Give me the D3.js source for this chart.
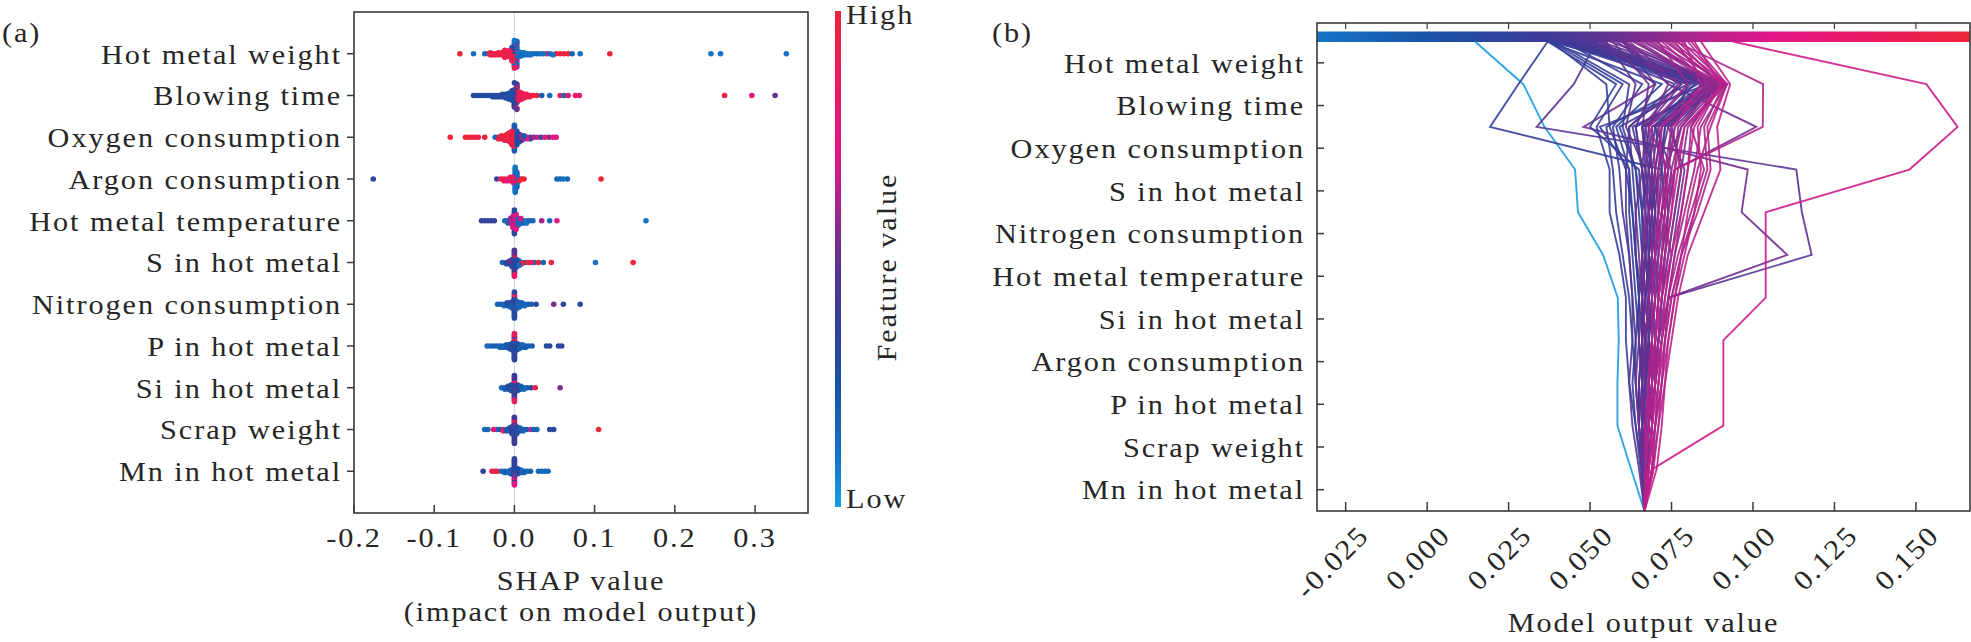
<!DOCTYPE html>
<html>
<head>
<meta charset="utf-8">
<title>SHAP summary and decision plots</title>
<script src="https://cdn.jsdelivr.net/npm/d3@7"></script>
<style>
  body { margin: 0; background: #fff; }
  text { font-family: "Liberation Serif", "Times New Roman", serif; fill: #262626; font-size: 28px; }
</style>
</head>
<body>
<script>
var width = 1971, height = 642;

// ---------- panel (a): SHAP summary ----------
var summaryFeatures = ["Hot metal weight", "Blowing time", "Oxygen consumption", "Argon consumption",
  "Hot metal temperature", "S in hot metal", "Nitrogen consumption", "P in hot metal",
  "Si in hot metal", "Scrap weight", "Mn in hot metal"];

// clusters: [shap value, samples, feature value 0 = low .. 1 = high]
var hotMetalWeight = [[-0.068,1,1],[-0.051,1,0.1],[-0.037,1,0.15],[-0.033,1,1],[-0.03,2,0.95],[-0.027,2,1],
  [-0.024,2,0.9],[-0.02,3,1],[-0.016,3,0.95],[-0.012,4,0.9],[-0.009,5,1],[-0.006,7,0.9],[-0.003,10,0.95],
  [-0.003,6,0.3],[0,10,0.1],[0,10,0.9],[0.003,8,0.15],[0.003,4,0.6],[0.006,6,0.1],[0.009,4,0.15],
  [0.012,3,0.1],[0.016,2,0.12],[0.02,2,0.1],[0.024,1,0.1],[0.028,1,0.15],[0.032,1,0.1],[0.036,1,0.1],
  [0.04,1,0.9],[0.044,1,0.15],[0.048,1,0.1],[0.052,1,0.95],[0.057,1,1],[0.062,1,0.95],[0.067,1,1],
  [0.072,1,0.15],[0.082,1,0.1],[0.119,1,1],[0.245,1,0.1],[0.257,1,0.1],[0.339,1,0.1]];
var blowingTime = [[-0.051,1,0.3],[-0.047,1,0.3],[-0.043,1,0.3],[-0.039,1,0.3],[-0.035,1,0.3],[-0.031,1,0.25],
  [-0.027,2,0.3],[-0.023,2,0.3],[-0.019,2,0.3],[-0.015,3,0.3],[-0.011,4,0.3],[-0.007,6,0.25],[-0.003,9,0.3],
  [0,10,0.35],[0.003,9,0.5],[0.003,5,0.9],[0.006,8,0.9],[0.009,6,0.85],[0.012,4,0.95],[0.015,3,0.9],
  [0.019,2,0.95],[0.023,1,0.9],[0.028,1,1],[0.034,1,0.2],[0.044,1,0.15],[0.057,1,0.9],[0.062,1,0.15],
  [0.067,1,0.8],[0.076,1,0.85],[0.081,1,0.8],[0.262,1,0.95],[0.296,1,0.8],[0.325,1,0.5]];
var oxygenConsumption = [[-0.08,1,1],[-0.061,1,1],[-0.057,1,1],[-0.053,1,1],[-0.049,1,1],[-0.045,1,0.95],
  [-0.037,1,1],[-0.024,1,0.15],[-0.02,2,0.95],[-0.016,3,1],[-0.012,4,0.95],[-0.009,5,1],[-0.006,7,0.9],
  [-0.003,10,0.95],[0,12,0.2],[0,6,0.9],[0.003,10,0.25],[0.006,6,0.3],[0.009,4,0.6],[0.012,3,0.2],
  [0.016,2,0.7],[0.02,2,0.25],[0.024,1,0.6],[0.028,1,0.75],[0.033,1,0.3],[0.038,1,0.8],[0.043,1,0.55],
  [0.048,1,0.75],[0.052,1,0.75]];
var argonConsumption = [[-0.176,1,0.35],[-0.022,1,0.35],[-0.017,1,0.9],[-0.013,2,0.95],[-0.009,2,0.75],
  [-0.005,3,0.9],[-0.002,4,0.8],[0.001,16,0.1],[0.003,10,0.15],[0.006,2,1],[0.009,1,0.95],[0.012,1,1],
  [0.053,1,0.15],[0.057,1,0.15],[0.061,1,0.1],[0.066,1,0.15],[0.108,1,1]];
var hotMetalTemperature = [[-0.041,1,0.35],[-0.037,1,0.35],[-0.033,1,0.35],[-0.029,1,0.4],[-0.025,1,0.35],
  [-0.012,1,0.15],[-0.008,2,0.2],[-0.005,3,0.6],[-0.002,6,0.7],[0,12,0.3],[0.002,8,0.75],[0.005,4,0.15],
  [0.008,3,0.7],[0.011,2,0.15],[0.015,2,0.1],[0.019,1,0.15],[0.023,1,0.15],[0.034,1,0.6],[0.044,1,0.15],
  [0.053,1,0.7],[0.164,1,0.1]];
var sInHotMetal = [[-0.015,1,0.15],[-0.01,2,0.3],[-0.006,3,0.5],[-0.003,6,0.3],[0,14,0.45],[0,6,0.85],
  [0.003,6,0.3],[0.006,4,0.15],[0.009,2,1],[0.013,1,0.2],[0.017,1,1],[0.021,1,0.9],[0.025,1,0.15],
  [0.03,1,1],[0.036,1,0.15],[0.046,1,1],[0.101,1,0.1],[0.148,1,1]];
var nitrogenConsumption = [[-0.021,1,0.15],[-0.017,1,0.2],[-0.013,2,0.15],[-0.009,3,0.3],[-0.005,4,0.2],
  [-0.002,6,0.35],[0,14,0.3],[0,6,0.9],[0.003,6,0.2],[0.006,4,0.15],[0.009,3,0.2],[0.013,2,0.15],
  [0.017,1,0.3],[0.021,1,0.2],[0.027,1,0.3],[0.049,1,0.55],[0.061,1,0.35],[0.082,1,0.3]];
var pInHotMetal = [[-0.034,1,0.15],[-0.03,1,0.15],[-0.026,1,0.2],[-0.022,1,0.15],[-0.018,2,0.2],
  [-0.014,2,0.15],[-0.01,3,0.2],[-0.006,4,0.3],[-0.003,6,0.3],[0,14,0.35],[0,8,0.85],[0.003,6,0.3],
  [0.006,4,0.2],[0.01,3,0.15],[0.014,2,0.2],[0.018,1,0.15],[0.022,1,0.2],[0.04,1,0.3],[0.044,1,0.35],
  [0.055,1,0.3],[0.059,1,0.35]];
var siInHotMetal = [[-0.016,1,0.15],[-0.012,2,0.2],[-0.008,3,0.3],[-0.004,5,0.3],[0,14,0.4],[0,6,0.85],
  [0.004,5,0.3],[0.008,3,0.2],[0.012,2,0.15],[0.016,1,0.2],[0.021,1,0.3],[0.026,1,0.95],[0.057,1,0.55]];
var scrapWeight = [[-0.037,1,0.15],[-0.033,1,0.15],[-0.026,1,0.8],[-0.022,1,0.15],[-0.018,1,0.2],
  [-0.014,2,0.9],[-0.01,2,0.2],[-0.006,3,0.3],[-0.003,6,0.35],[0,14,0.4],[0,6,0.85],[0.003,6,0.3],
  [0.007,3,0.2],[0.011,2,0.15],[0.015,1,0.2],[0.02,1,0.7],[0.024,1,0.2],[0.028,1,0.15],[0.044,1,0.35],
  [0.049,1,0.3],[0.105,1,1]];
var mnInHotMetal = [[-0.039,1,0.35],[-0.028,1,0.9],[-0.024,1,0.95],[-0.021,1,1],[-0.016,1,0.15],
  [-0.012,2,0.2],[-0.008,2,0.15],[-0.004,4,0.3],[0,14,0.35],[0,8,0.75],[0.004,5,0.3],[0.008,3,0.15],
  [0.012,2,0.2],[0.016,1,0.15],[0.02,1,0.2],[0.03,1,0.15],[0.034,1,0.15],[0.038,1,0.15],[0.042,1,0.15]];
var summaryClusters = [hotMetalWeight, blowingTime, oxygenConsumption, argonConsumption, hotMetalTemperature,
  sInHotMetal, nitrogenConsumption, pInHotMetal, siInHotMetal, scrapWeight, mnInHotMetal];
var shapTicks = [-0.2, -0.1, 0.0, 0.1, 0.2, 0.3];

// ---------- panel (b): decision plot ----------
var decisionFeatures = ["Hot metal weight", "Blowing time", "Oxygen consumption", "S in hot metal",
  "Nitrogen consumption", "Hot metal temperature", "Si in hot metal", "Argon consumption",
  "P in hot metal", "Scrap weight", "Mn in hot metal"];
var baseValue = 0.0667;
var outputTicks = [-0.025, 0.000, 0.025, 0.050, 0.075, 0.100, 0.125, 0.150];
// model output after adding, from the bottom: Mn, Scrap, P, Argon, Si, HMT, N2, S, O2, Blowing, HMW
var decisionPaths = [
  [0.0625,0.0584,0.0584,0.0588,0.0585,0.054,0.0463,0.0454,0.036,0.0295,0.0147],
  [0.067,0.067,0.066,0.066,0.065,0.066,0.068,0.072,0.0193,0.028,0.037],
  [0.068,0.069,0.070,0.072,0.0742,0.118,0.115,0.1133,0.0336,0.045,0.052],
  [0.067,0.068,0.069,0.071,0.0742,0.1105,0.0965,0.0984,0.048,0.070,0.060],
  [0.067,0.068,0.069,0.070,0.071,0.072,0.074,0.076,0.101,0.074,0.060],
  [0.0655,0.064,0.062,0.061,0.061,0.059,0.056,0.056,0.052,0.060,0.038],
  [0.066,0.065,0.064,0.063,0.062,0.060,0.058,0.057,0.055,0.080,0.039],
  [0.0665,0.066,0.066,0.065,0.064,0.063,0.062,0.062,0.058,0.072,0.037],
  [0.067,0.067,0.068,0.068,0.069,0.068,0.067,0.066,0.064,0.088,0.038],
  [0.066,0.065,0.065,0.066,0.067,0.066,0.065,0.064,0.060,0.062,0.039],
  [0.0675,0.068,0.068,0.069,0.070,0.071,0.070,0.068,0.070,0.090,0.040],
  [0.066,0.066,0.067,0.066,0.066,0.064,0.063,0.061,0.056,0.055,0.038],
  [0.066,0.064,0.063,0.064,0.065,0.064,0.063,0.062,0.053,0.086,0.040],
  [0.067,0.068,0.069,0.070,0.069,0.068,0.069,0.070,0.072,0.091,0.041],
  [0.0665,0.067,0.066,0.066,0.066,0.067,0.066,0.064,0.059,0.083,0.041],
  [0.0665,0.065,0.064,0.064,0.063,0.062,0.060,0.059,0.057,0.066,0.042],
  [0.067,0.066,0.066,0.067,0.068,0.069,0.070,0.069,0.066,0.087,0.043],
  [0.067,0.067,0.067,0.068,0.068,0.070,0.072,0.074,0.075,0.080,0.044],
  [0.066,0.065,0.065,0.066,0.066,0.067,0.068,0.069,0.067,0.089,0.044],
  [0.066,0.066,0.066,0.067,0.066,0.066,0.066,0.067,0.066,0.085,0.039],
  [0.0668,0.067,0.066,0.065,0.065,0.064,0.064,0.063,0.062,0.076,0.043],
  [0.067,0.068,0.068,0.067,0.068,0.067,0.066,0.065,0.050,0.058,0.037],
  [0.0665,0.066,0.067,0.068,0.067,0.069,0.068,0.066,0.063,0.089,0.045],
  [0.067,0.068,0.067,0.068,0.068,0.068,0.069,0.071,0.073,0.090,0.046],
  [0.068,0.068,0.069,0.069,0.070,0.072,0.073,0.075,0.070,0.086,0.047],
  [0.067,0.068,0.069,0.068,0.069,0.070,0.071,0.072,0.073,0.087,0.048],
  [0.066,0.065,0.066,0.067,0.068,0.067,0.066,0.068,0.069,0.091,0.050],
  [0.0665,0.066,0.067,0.067,0.068,0.069,0.068,0.067,0.068,0.081,0.050],
  [0.065,0.063,0.062,0.063,0.063,0.062,0.061,0.061,0.062,0.078,0.051],
  [0.0675,0.069,0.070,0.071,0.072,0.074,0.076,0.078,0.075,0.084,0.052],
  [0.066,0.066,0.065,0.066,0.067,0.068,0.067,0.066,0.064,0.070,0.054],
  [0.067,0.067,0.068,0.069,0.068,0.069,0.070,0.069,0.071,0.092,0.056],
  [0.0665,0.067,0.068,0.067,0.066,0.065,0.064,0.066,0.067,0.078,0.058],
  [0.068,0.069,0.070,0.071,0.073,0.075,0.077,0.079,0.074,0.088,0.059],
  [0.068,0.069,0.070,0.070,0.071,0.073,0.074,0.073,0.078,0.090,0.060],
  [0.066,0.065,0.064,0.065,0.066,0.066,0.068,0.069,0.068,0.074,0.061],
  [0.067,0.066,0.067,0.066,0.067,0.066,0.067,0.068,0.066,0.077,0.062],
  [0.067,0.068,0.068,0.069,0.070,0.069,0.068,0.070,0.072,0.088,0.063],
  [0.066,0.066,0.066,0.067,0.068,0.070,0.071,0.070,0.069,0.085,0.064],
  [0.067,0.067,0.068,0.068,0.068,0.069,0.071,0.073,0.071,0.086,0.065],
  [0.0665,0.066,0.067,0.068,0.069,0.071,0.073,0.072,0.070,0.082,0.046],
  [0.067,0.067,0.066,0.066,0.067,0.068,0.070,0.071,0.074,0.091,0.053],
  [0.066,0.066,0.067,0.067,0.066,0.067,0.069,0.068,0.066,0.068,0.057],
  [0.068,0.069,0.069,0.070,0.071,0.070,0.072,0.074,0.076,0.089,0.049],
  [0.0665,0.067,0.068,0.069,0.069,0.070,0.069,0.067,0.061,0.064,0.055],
  [0.068,0.069,0.070,0.071,0.072,0.074,0.076,0.078,0.080,0.091,0.066],
  [0.067,0.068,0.069,0.070,0.071,0.072,0.074,0.076,0.077,0.089,0.068],
  [0.067,0.068,0.070,0.072,0.074,0.076,0.078,0.080,0.081,0.089,0.069],
  [0.069,0.071,0.072,0.073,0.074,0.076,0.079,0.082,0.084,0.092,0.070],
  [0.067,0.068,0.068,0.069,0.070,0.071,0.072,0.073,0.075,0.087,0.072],
  [0.069,0.070,0.072,0.074,0.076,0.079,0.082,0.086,0.085,0.091,0.073],
  [0.068,0.070,0.071,0.072,0.074,0.077,0.081,0.085,0.081,0.090,0.074],
  [0.068,0.069,0.070,0.071,0.072,0.073,0.075,0.076,0.079,0.092,0.075],
  [0.067,0.067,0.068,0.069,0.069,0.070,0.071,0.071,0.072,0.086,0.076],
  [0.068,0.070,0.072,0.073,0.075,0.078,0.082,0.084,0.083,0.090,0.077],
  [0.069,0.070,0.071,0.073,0.075,0.078,0.083,0.087,0.086,0.092,0.078],
  [0.067,0.067,0.068,0.070,0.071,0.072,0.073,0.074,0.076,0.084,0.079],
  [0.068,0.069,0.070,0.070,0.071,0.073,0.075,0.077,0.079,0.091,0.080],
  [0.0695,0.071,0.073,0.074,0.076,0.078,0.080,0.083,0.087,0.092,0.081],
  [0.067,0.068,0.069,0.071,0.072,0.073,0.074,0.075,0.078,0.088,0.067],
  [0.068,0.069,0.071,0.072,0.073,0.075,0.078,0.080,0.082,0.090,0.082],
  [0.0705,0.072,0.073,0.075,0.077,0.080,0.085,0.090,0.089,0.093,0.084],
  [0.067,0.068,0.068,0.069,0.069,0.070,0.072,0.074,0.068,0.080,0.071],
  [0.067,0.068,0.069,0.070,0.072,0.075,0.072,0.076,0.103,0.1031,0.0763],
  [0.0695,0.0909,0.0909,0.0909,0.1039,0.1039,0.1039,0.148,0.1628,0.1532,0.0938]
];

// ---------- shared colour map ----------
var cmapPos = [0, 0.1, 0.25, 0.4, 0.52, 0.62, 0.72, 0.85, 1];
var cmapCol = ["#1a9de0", "#1672c4", "#1a52a6", "#3b3c98", "#6a3090", "#b0248c", "#e2168a", "#ea1a64", "#ec2538"];
var cmap = d3.scaleLinear().domain(cmapPos).range(cmapCol).interpolate(d3.interpolateRgb);

var svg = d3.select("body").append("svg")
  .attr("width", width).attr("height", height);

function label(g, x, y, str, anchor, rot) {
  return g.append("text")
    .attr("transform", "translate(" + x + "," + y + ")" + (rot ? " rotate(" + rot + ")" : "") + " scale(1.08,1)")
    .attr("text-anchor", anchor)
    .attr("letter-spacing", "1.8px")
    .text(str);
}

var defs = svg.append("defs");
function gradient(id, horizontal, t0) {
  var gr = defs.append("linearGradient").attr("id", id)
    .attr("x1", 0).attr("y1", horizontal ? 0 : 1).attr("x2", horizontal ? 1 : 0).attr("y2", 0);
  d3.range(0, 1.0001, 0.05).forEach(function(t) {
    gr.append("stop").attr("offset", t).attr("stop-color", cmap(t0 + (1 - t0) * t));
  });
}
gradient("vgrad", false, 0);
gradient("hgrad", true, 0.09);

// ===== panel (a) =====
var ax = {left: 354, right: 808, top: 12, bottom: 513};
var xA = d3.scaleLinear().domain([-0.2, 0.366]).range([ax.left, ax.right]);
var yA = d3.scalePoint().domain(summaryFeatures).range([ax.top, ax.bottom]).padding(1);
var ga = svg.append("g");

ga.append("line").attr("x1", xA(0)).attr("x2", xA(0)).attr("y1", ax.top).attr("y2", ax.bottom)
  .attr("stroke", "#d6dde0").attr("stroke-width", 1.2);

summaryClusters.forEach(function(clusters, row) {
  var pts = [];
  clusters.forEach(function(c) {
    for (var k = 0; k < c[1]; k++) pts.push({v: c[0], f: c[2]});
  });
  var lo = d3.min(pts, function(d) { return d.v; }), hi = d3.max(pts, function(d) { return d.v; });
  pts.forEach(function(p, i) {
    p.bin = Math.round(100 * (p.v - lo) / (hi - lo));
    p.key = (i * 37) % 101;
  });
  var maxLayer = 0;
  d3.group(pts, function(d) { return d.bin; }).forEach(function(list) {
    list.sort(function(a, b) { return a.key - b.key; });
    list.forEach(function(p, j) {
      p.layer = Math.ceil(j / 2) * ((j % 2) * 2 - 1);
      maxLayer = Math.max(maxLayer, p.layer);
    });
  });
  var k = 0.9 * 0.4 / (maxLayer + 1) * yA.step();
  pts.sort(function(a, b) { return a.key - b.key; });
  ga.append("g").selectAll("circle").data(pts).enter().append("circle")
    .attr("cx", function(d) { return xA(d.v); })
    .attr("cy", function(d) { return yA(summaryFeatures[row]) + d.layer * k; })
    .attr("r", 2.8)
    .attr("fill", function(d) { return cmap(d.f); });
});

ga.append("rect").attr("x", ax.left).attr("y", ax.top)
  .attr("width", ax.right - ax.left).attr("height", ax.bottom - ax.top)
  .attr("fill", "none").attr("stroke", "#3a3a3a").attr("stroke-width", 1.6);

summaryFeatures.forEach(function(f) {
  ga.append("line").attr("x1", ax.left - 7).attr("x2", ax.left).attr("y1", yA(f)).attr("y2", yA(f))
    .attr("stroke", "#3a3a3a").attr("stroke-width", 1.5);
  label(ga, ax.left - 12, yA(f), f, "end").attr("dy", "0.35em");
});
shapTicks.forEach(function(t) {
  ga.append("line").attr("x1", xA(t)).attr("x2", xA(t)).attr("y1", ax.bottom - 8).attr("y2", ax.bottom)
    .attr("stroke", "#3a3a3a").attr("stroke-width", 1.5);
  label(ga, xA(t), 547, d3.format(".1f")(t).replace("−", "-"), "middle");
});
label(ga, (ax.left + ax.right) / 2, 590, "SHAP value", "middle");
label(ga, (ax.left + ax.right) / 2, 621, "(impact on model output)", "middle");
label(ga, 2, 42, "(a)", "start");

// colour bar
ga.append("rect").attr("x", 835).attr("y", 11).attr("width", 6).attr("height", 496)
  .attr("fill", "url(#vgrad)");
label(ga, 846, 24, "High", "start");
label(ga, 846, 508, "Low", "start");
label(ga, 886, 267, "Feature value", "middle", -90).attr("dy", "0.35em");

// ===== panel (b) =====
var bx = {left: 1317, right: 1970, top: 23, bottom: 511};
var plotTop = 41.5;
var xB = d3.scaleLinear().domain([-0.0338, 0.1666]).range([bx.left, bx.right]);
var yB = d3.scaleLinear().domain([0, decisionFeatures.length]).range([bx.bottom, plotTop]);
var gb = svg.append("g");

gb.append("rect").attr("x", bx.left).attr("y", 31.5).attr("width", bx.right - bx.left).attr("height", 10.5)
  .attr("fill", "url(#hgrad)");

var lineColor = d3.scaleLinear().domain([0.0147, 0.038, 0.055, 0.07, 0.094]).range([0, 0.38, 0.5, 0.6, 0.68]);
var line = d3.line()
  .x(function(d) { return xB(d); })
  .y(function(d, i) { return yB(i); });
gb.append("g").selectAll("path").data(decisionPaths).enter().append("path")
  .attr("d", function(p) { return line([baseValue].concat(p)); })
  .attr("fill", "none")
  .attr("stroke", function(p) { return cmap(lineColor(p[p.length - 1])); })
  .attr("stroke-width", 1.9)
  .attr("stroke-opacity", 0.9);

gb.append("rect").attr("x", bx.left).attr("y", bx.top)
  .attr("width", bx.right - bx.left).attr("height", bx.bottom - bx.top)
  .attr("fill", "none").attr("stroke", "#3a3a3a").attr("stroke-width", 1.6);

var nF = decisionFeatures.length;
decisionFeatures.forEach(function(f, i) {
  var y = yB(nF - 1 - i + 0.5);
  gb.append("line").attr("x1", bx.left).attr("x2", bx.left + 7).attr("y1", y).attr("y2", y)
    .attr("stroke", "#3a3a3a").attr("stroke-width", 1.5);
  label(gb, bx.left - 12, y, f, "end").attr("dy", "0.35em");
});
outputTicks.forEach(function(t) {
  gb.append("line").attr("x1", xB(t)).attr("x2", xB(t)).attr("y1", bx.bottom - 9).attr("y2", bx.bottom)
    .attr("stroke", "#3a3a3a").attr("stroke-width", 1.5);
  gb.append("line").attr("x1", xB(t)).attr("x2", xB(t)).attr("y1", bx.top).attr("y2", bx.top + 6)
    .attr("stroke", "#3a3a3a").attr("stroke-width", 1.2);
  label(gb, xB(t) + 25, 537, d3.format(".3f")(t).replace("−", "-"), "end", -45);
});
label(gb, (bx.left + bx.right) / 2, 632, "Model output value", "middle");
label(gb, 992, 42, "(b)", "start");
</script>
</body>
</html>
